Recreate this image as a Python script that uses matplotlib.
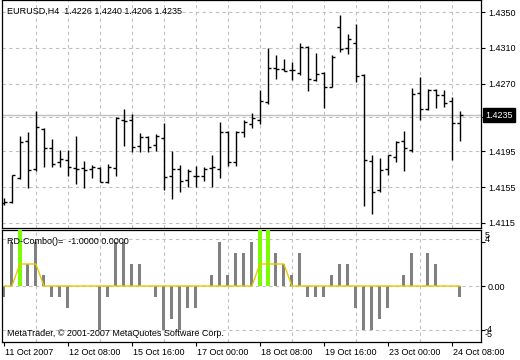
import matplotlib
matplotlib.use("Agg")
import matplotlib.pyplot as plt
import matplotlib.transforms as mtransforms
import numpy as np

plt.rcParams["font.family"] = ["Liberation Sans", "DejaVu Sans"]

# EURUSD H4, 11 Oct 2007 00:00 .. 24 Oct 2007 12:00
opens = [1.4137, 1.4138, 1.4165, 1.4206, 1.4175, 1.4220, 1.4199, 1.4183, 1.4185, 1.4176,
         1.4176, 1.4175, 1.4176, 1.4161, 1.4176, 1.4230, 1.4230, 1.4201, 1.4211, 1.4202,
         1.4210, 1.4167, 1.4175, 1.4163, 1.4167, 1.4167, 1.4176, 1.4175, 1.4216, 1.4183,
         1.4216, 1.4225, 1.4230, 1.4250, 1.4288, 1.4287, 1.4285, 1.4282, 1.4311, 1.4274,
         1.4282, 1.4267, 1.4333, 1.4310, 1.4316, 1.4280, 1.4184, 1.4152, 1.4175, 1.4189,
         1.4206, 1.4196, 1.4260, 1.4242, 1.4263, 1.4258, 1.4251, 1.4226]
highs = [1.4143, 1.4169, 1.4212, 1.4216, 1.4240, 1.4221, 1.4208, 1.4196, 1.4196, 1.4212,
         1.4184, 1.4180, 1.4177, 1.4181, 1.4233, 1.4242, 1.4236, 1.4215, 1.4212, 1.4214,
         1.4226, 1.4195, 1.4180, 1.4175, 1.4178, 1.4177, 1.4191, 1.4228, 1.4217, 1.4217,
         1.4230, 1.4238, 1.4263, 1.4310, 1.4302, 1.4298, 1.4294, 1.4316, 1.4312, 1.4304,
         1.4283, 1.4302, 1.4347, 1.4325, 1.4337, 1.4281, 1.4191, 1.4187, 1.4191, 1.4206,
         1.4217, 1.4265, 1.4278, 1.4264, 1.4264, 1.4263, 1.4255, 1.4240]
lows = [1.4135, 1.4137, 1.4164, 1.4154, 1.4173, 1.4177, 1.4177, 1.4177, 1.4167, 1.4158,
        1.4154, 1.4165, 1.4161, 1.4160, 1.4167, 1.4201, 1.4194, 1.4194, 1.4194, 1.4195,
        1.4152, 1.4142, 1.4150, 1.4155, 1.4155, 1.4162, 1.4155, 1.4165, 1.4178, 1.4178,
        1.4211, 1.4221, 1.4225, 1.4248, 1.4275, 1.4284, 1.4274, 1.4280, 1.4262, 1.4273,
        1.4243, 1.4266, 1.4306, 1.4303, 1.4272, 1.4134, 1.4125, 1.4149, 1.4168, 1.4183,
        1.4173, 1.4194, 1.4230, 1.4241, 1.4243, 1.4244, 1.4185, 1.4206]
closes = [1.4138, 1.4168, 1.4205, 1.4174, 1.4222, 1.4198, 1.4181, 1.4186, 1.4177, 1.4175,
          1.4174, 1.4177, 1.4161, 1.4177, 1.4232, 1.4229, 1.4200, 1.4211, 1.4200, 1.4212,
          1.4166, 1.4175, 1.4162, 1.4173, 1.4167, 1.4175, 1.4177, 1.4216, 1.4183, 1.4216,
          1.4227, 1.4232, 1.4251, 1.4288, 1.4286, 1.4284, 1.4285, 1.4311, 1.4275, 1.4281,
          1.4267, 1.4300, 1.4309, 1.4320, 1.4279, 1.4185, 1.4150, 1.4174, 1.4191, 1.4205,
          1.4198, 1.4259, 1.4242, 1.4263, 1.4258, 1.4249, 1.4226, 1.4235]

# RD-Combo indicator
combo = [-1, 4, 0, 2, 4, 1, -1, -1, -2, 0,
         0, 0, -4, -1, 4, 4, 2, 2, 0, -1,
         -4, -3, -4, -2, -2, 0, 1, 4, 1, 3,
         3, 4, 0, 0, 3, 2, 1, 3, -1, -1,
         -1, 1, 2, 2, -2, -4, -4, -3, -2, 0,
         1, 3, 0, 3, 2, 0, 0, -1]
signal_bars = [2, 32, 33]
signal_value = 6.0
combo_line = [0, 0, 2, 2, 2, 0, 0, 0, 0, 0,
              0, 0, 0, 0, 0, 0, 0, 0, 0, 0,
              0, 0, 0, 0, 0, 0, 0, 0, 0, 0,
              0, 0, 2, 2, 2, 2, 0, 0, 0, 0,
              0, 0, 0, 0, 0, 0, 0, 0, 0, 0,
              0, 0, 0, 0, 0, 0, 0, 0]

date_labels = ["11 Oct 2007", "12 Oct 08:00", "15 Oct 16:00", "17 Oct 00:00",
               "18 Oct 08:00", "19 Oct 16:00", "23 Oct 00:00", "24 Oct 08:00"]
price_ticks = [1.4115, 1.4155, 1.4195, 1.4233, 1.4270, 1.4310, 1.4350]
price_labels = ["1.4115", "1.4155", "1.4195", "", "1.4270", "1.4310", "1.4350"]
bid = 1.4235

W, H = 520, 360
x = np.arange(len(opens))
grid_kw = dict(color="#c0c0c0", linestyle=(0, (3, 3)), linewidth=0.8)
fs = 6.5

fig = plt.figure(figsize=(W / 100, H / 100), dpi=100)
ax1 = fig.add_axes([1.5 / W, 1 - 228 / H, 479.5 / W, 228 / H])
ax2 = fig.add_axes([1.5 / W, 1 - 342 / H, 479.5 / W, 112 / H])

for ax in (ax1, ax2):
    ax.set_xlim(-0.3, -0.3 + 479.5 / 8)
    ax.set_xticks(np.arange(4, 60, 4), minor=True)
    ax.grid(True, which="minor", axis="x", **grid_kw)
    ax.tick_params(which="minor", length=0)
    ax.yaxis.tick_right()
    ax.tick_params(axis="y", length=3, width=0.8, pad=2, labelsize=fs)
    for s in ax.spines.values():
        s.set_linewidth(0.9)

# main OHLC panel
ax1.set_ylim(1.41094, 1.43634)
ax1.set_yticks(price_ticks)
ax1.set_yticklabels(price_labels)
ax1.grid(True, which="major", axis="y", **grid_kw)
ax1.set_xticks([])
ax1.axhline(bid, color="#c0c0c0", linewidth=1.0, zorder=1)
ax1.vlines(x, lows, highs, color="black", linewidth=1.0, zorder=3)
ax1.hlines(opens, x - 0.35, x, color="black", linewidth=1.0, zorder=3)
ax1.hlines(closes, x, x + 0.35, color="black", linewidth=1.0, zorder=3)
ax1.text(5.5 / 479.5, 1 - 11.5 / 228,
         "EURUSD,H4  %.4f %.4f %.4f %.4f" % (opens[-1], highs[-1], lows[-1], closes[-1]),
         transform=ax1.transAxes, fontsize=fs, va="center", ha="left")
trans = mtransforms.blended_transform_factory(ax1.transAxes, ax1.transData)
ax1.text(1 + 4 / 479.5, bid, "%.4f" % bid, transform=trans, fontsize=fs,
         color="white", va="center", ha="left", clip_on=False,
         bbox=dict(boxstyle="square,pad=0.25", fc="black", ec="black"))

# indicator panel
ax2.set_ylim(-5.09, 5.09)
ax2.set_yticks([-4, 0, 4])
ax2.set_yticklabels(["", "0.00", ""])
for lvl in (-4, 0, 4.25):
    ax2.axhline(lvl, zorder=0, **grid_kw)
ax2.bar(x, combo, width=0.375, color="#808080", zorder=2)
ax2.bar(signal_bars, [signal_value] * len(signal_bars), width=0.45,
        color="#7cfc00", zorder=3)
ax2.plot(x, combo_line, color="#e8c800", linewidth=1.0, zorder=4)
trans2 = mtransforms.blended_transform_factory(ax2.transAxes, ax2.transData)
for txt, yv in (("5", 4.6), ("4", 4.2), ("-4", -3.95), ("-5", -4.4)):
    ax2.text(1 + 3.5 / 479.5, yv, txt, transform=trans2, fontsize=fs,
             va="center", ha="left", clip_on=False)
ax2.text(5.5 / 479.5, (342 - 242) / 112, "RD-Combo()=  -1.0000 0.0000",
         transform=ax2.transAxes, fontsize=fs, va="center", ha="left", zorder=6)
ax2.text(5.5 / 479.5, (342 - 334) / 112,
         "MetaTrader, \u00a9 2001-2007 MetaQuotes Software Corp.",
         transform=ax2.transAxes, fontsize=fs, va="center", ha="left", zorder=6)

ax2.set_xticks(np.arange(0, 64, 8))
ax2.set_xticklabels(date_labels)
ax2.tick_params(axis="x", length=3, width=0.8, pad=1, labelsize=fs)
offset = mtransforms.ScaledTranslation(1.5 / 100, 0, fig.dpi_scale_trans)
for lab in ax2.get_xticklabels():
    lab.set_horizontalalignment("left")
    lab.set_transform(lab.get_transform() + offset)

fig.savefig("out.png", dpi=100)
